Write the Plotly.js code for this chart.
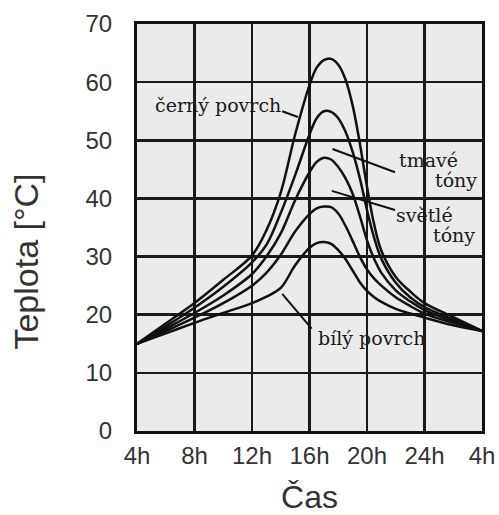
<!DOCTYPE html>
<html>
<head>
<meta charset="utf-8">
<script src="https://cdn.plot.ly/plotly-3.0.1.min.js"></script>
<style>html,body{margin:0;padding:0;background:#fff;}#chart{width:499px;height:515px;}</style>
</head>
<body>
<div id="chart"></div>
<script>
// Hours (4h of day 1 to 4h of next day = 28)
const hours = [4, 6, 8, 10, 12, 13, 14, 15, 16, 16.5, 17, 17.5, 18, 18.5, 19, 19.5, 20, 20.5, 21, 22, 23, 24, 26, 28];
const tickVals = [4, 8, 12, 16, 20, 24, 28];
const tickLabels = ["4h", "8h", "12h", "16h", "20h", "24h", "4h"];

// Temperatures [°C]
const cernyPovrch = [15, 18.5, 22, 26, 30.2, 34.5, 41, 51, 59.5, 62.5, 63.8, 64, 63, 60.5, 56, 49.5, 42, 35.5, 31, 26.5, 24, 22, 19.6, 17.2];
const tmaveTony1  = [15, 18, 21.2, 24.8, 29, 32, 37.5, 44, 51, 53.8, 55, 54.9, 53.8, 51.5, 48, 43.5, 38, 33.2, 29.6, 25.5, 23, 21.3, 19.2, 17.2];
const tmaveTony2  = [15, 17.6, 20.3, 23.3, 27, 30, 34, 39.7, 44.5, 46.3, 47, 46.7, 45.4, 43.5, 40.8, 37, 32.8, 29.6, 27.2, 24.2, 22.3, 20.8, 18.9, 17.2];
const svetleTony  = [15, 17.2, 19.5, 22, 25, 27.2, 30.3, 34.3, 37.3, 38.3, 38.6, 38.5, 37.4, 35.3, 32.7, 30, 27.8, 26.2, 25, 23, 21.5, 20.2, 18.6, 17.2];
const bilyPovrch  = [15, 16.8, 18.6, 20.3, 22, 23.1, 24.6, 28.5, 31.5, 32.3, 32.5, 32.2, 31.1, 29.6, 27.6, 25.6, 24.1, 23, 22.2, 21, 20.2, 19.5, 18.2, 17.2];

const series = [cernyPovrch, tmaveTony1, tmaveTony2, svetleTony, bilyPovrch];

const traces = series.map(vals => ({
  x: hours, y: vals, type: 'scatter', mode: 'lines',
  line: {color: '#111', width: 2.5, shape: 'spline', smoothing: 1},
  hoverinfo: 'skip', showlegend: false
}));

const annFont = {family: 'DejaVu Serif', size: 19, color: '#1a1a1a'};
const ann = (text, x, y) => ({text, x, y, xref: 'x', yref: 'y', showarrow: false,
  xanchor: 'center', yanchor: 'middle', font: annFont});

const leader = (x0, y0, x1, y1) => ({type: 'line', xref: 'x', yref: 'y', x0, y0, x1, y1,
  line: {color: '#111', width: 2}});

const layout = {
  width: 499, height: 515,
  margin: {l: 137, r: 17, t: 24, b: 84},
  paper_bgcolor: '#ffffff',
  plot_bgcolor: '#ebebeb',
  xaxis: {
    range: [4, 28], tickvals: tickVals, ticktext: tickLabels,
    showgrid: true, gridcolor: '#1a1a1a', gridwidth: 2.5,
    showline: true, mirror: true, linecolor: '#111', linewidth: 3,
    zeroline: false, ticks: '', ticklabelstandoff: 1,
    tickfont: {family: 'Liberation Sans', size: 24, color: '#333'},
    title: {text: 'Čas', font: {family: 'Liberation Sans', size: 32, color: '#333'}, standoff: 32}
  },
  yaxis: {
    range: [0, 70], dtick: 10,
    showgrid: true, gridcolor: '#1a1a1a', gridwidth: 2.5,
    showline: true, mirror: true, linecolor: '#111', linewidth: 3,
    zeroline: false, ticks: '', ticklabelstandoff: 17,
    tickfont: {family: 'Liberation Sans', size: 24, color: '#333'},
    title: {text: 'Teplota [°C]<span style="color:rgba(0,0,0,0)">xxxx</span>', font: {family: 'Liberation Sans', size: 34, color: '#333'}, standoff: 37}
  },
  annotations: [
    ann('černý povrch', 9.6, 56.0),
    ann('tmavé', 24.3, 46.6),
    ann('tóny', 26.2, 43.2),
    ann('světlé', 24.0, 37.2),
    ann('tóny', 26.05, 33.7),
    ann('bílý povrch', 20.3, 16.0)
  ],
  shapes: [
    leader(14.1, 55.0, 15.2, 54.0),
    leader(17.6, 48.5, 21.95, 44.5),
    leader(17.55, 41.3, 21.95, 38.0),
    leader(14.1, 23.6, 16.15, 17.6)
  ]
};

Plotly.newPlot('chart', traces, layout, {displayModeBar: false, staticPlot: true});
</script>
</body>
</html>
